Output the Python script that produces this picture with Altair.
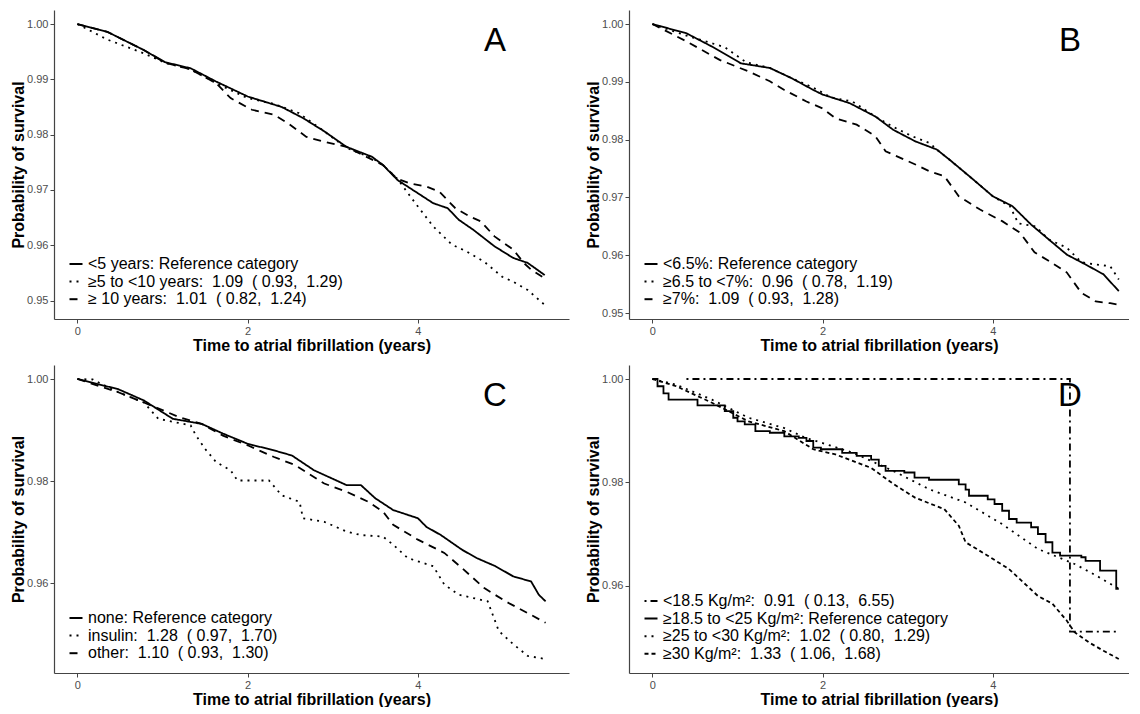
import altair as alt
import pandas as pd

# ---------------- data ----------------
# Panel A: diabetes duration
A_lab = ["<5 years: Reference category",
         "≥5 to <10 years:  1.09  ( 0.93,  1.29)",
         "≥ 10 years:  1.01  ( 0.82,  1.24)"]
A1_t = [0, 0.35, 0.78, 1.03, 1.33, 1.63, 2.0, 2.4, 2.65, 2.9, 3.16, 3.46, 3.59, 3.76, 4.0, 4.18, 4.35, 4.48, 4.65, 4.9, 5.12, 5.29, 5.49]
A1_s = [1.0, 0.9986, 0.9953, 0.9931, 0.992, 0.9896, 0.9869, 0.985, 0.983, 0.9806, 0.9778, 0.976, 0.9745, 0.9718, 0.9694, 0.9676, 0.9667, 0.9646, 0.9628, 0.9598, 0.9577, 0.9568, 0.9546]
A2_t = [0, 0.35, 0.78, 1.03, 1.33, 1.63, 2.0, 2.3, 2.6, 2.9, 3.16, 3.46, 3.59, 3.76, 3.97, 4.18, 4.4, 4.57, 4.78, 4.99, 5.12, 5.29, 5.49]
A2_s = [1.0, 0.9972, 0.9947, 0.993, 0.9918, 0.9893, 0.9866, 0.9856, 0.9839, 0.9806, 0.9776, 0.9758, 0.9745, 0.972, 0.9676, 0.9634, 0.9601, 0.9589, 0.957, 0.9543, 0.9534, 0.9519, 0.9492]
A3_t = [0, 0.35, 0.78, 1.03, 1.33, 1.63, 1.8, 2.05, 2.31, 2.48, 2.69, 2.9, 3.16, 3.59, 3.76, 3.9, 4.1, 4.25, 4.44, 4.61, 4.74, 4.9, 5.12, 5.25, 5.33, 5.49]
A3_s = [1.0, 0.9986, 0.9953, 0.993, 0.9918, 0.9893, 0.9866, 0.9845, 0.9836, 0.982, 0.9796, 0.9787, 0.9778, 0.9745, 0.972, 0.9712, 0.9706, 0.9697, 0.9667, 0.9652, 0.9643, 0.9616, 0.9592, 0.9567, 0.9556, 0.954]

# Panel B: HbA1c
B_lab = ["<6.5%: Reference category",
         "≥6.5 to <7%:  0.96  ( 0.78,  1.19)",
         "≥7%:  1.09  ( 0.93,  1.28)"]
B1_t = [0, 0.4, 0.7, 1.04, 1.38, 1.64, 1.89, 2.0, 2.32, 2.62, 2.83, 3.09, 3.34, 3.51, 3.77, 4.0, 4.23, 4.45, 4.66, 4.87, 5.09, 5.3, 5.48]
B1_s = [1.0, 0.9984, 0.9961, 0.9932, 0.9924, 0.9906, 0.9886, 0.9878, 0.9863, 0.984, 0.9817, 0.9797, 0.9783, 0.9763, 0.9731, 0.9702, 0.9685, 0.9653, 0.9627, 0.9601, 0.9584, 0.9567, 0.9538]
B2_t = [0, 0.4, 0.85, 1.1, 1.38, 1.64, 1.89, 2.1, 2.35, 2.62, 2.83, 3.05, 3.26, 3.34, 3.51, 3.77, 4.0, 4.2, 4.3, 4.5, 4.66, 4.87, 5.04, 5.2, 5.38, 5.48]
B2_s = [1.0, 0.998, 0.996, 0.9934, 0.9924, 0.9906, 0.989, 0.9873, 0.9866, 0.984, 0.9822, 0.9806, 0.9794, 0.9783, 0.9763, 0.9731, 0.9702, 0.9685, 0.9655, 0.965, 0.9627, 0.9613, 0.9588, 0.9584, 0.9581, 0.9558]
B3_t = [0, 0.4, 0.79, 1.13, 1.38, 1.55, 1.81, 2.0, 2.15, 2.4, 2.62, 2.74, 3.09, 3.26, 3.43, 3.6, 3.85, 4.11, 4.32, 4.49, 4.66, 4.87, 5.04, 5.21, 5.38, 5.48]
B3_s = [1.0, 0.997, 0.9938, 0.9918, 0.9901, 0.9886, 0.9866, 0.9854, 0.9837, 0.9826, 0.9806, 0.978, 0.9757, 0.9745, 0.9737, 0.9702, 0.9679, 0.9659, 0.9639, 0.9605, 0.959, 0.957, 0.9535, 0.952, 0.9517, 0.9514]

# Panel C: diabetes treatment
C_lab = ["none: Reference category",
         "insulin:  1.28  ( 0.97,  1.70)",
         "other:  1.10  ( 0.93,  1.30)"]
C1_t = [0, 0.48, 0.78, 1.12, 1.46, 1.71, 2.0, 2.31, 2.52, 2.78, 2.99, 3.16, 3.33, 3.5, 3.71, 4.0, 4.1, 4.27, 4.52, 4.69, 4.91, 5.12, 5.33, 5.42, 5.5]
C1_s = [1.0, 0.998, 0.9958, 0.9922, 0.9912, 0.9893, 0.9873, 0.986, 0.985, 0.9821, 0.9805, 0.9792, 0.9792, 0.9766, 0.9743, 0.9727, 0.971, 0.9694, 0.9665, 0.9649, 0.9633, 0.9613, 0.9603, 0.9577, 0.9564]
C2_t = [0, 0.18, 0.48, 0.78, 0.95, 1.33, 1.39, 1.5, 1.63, 1.8, 1.88, 2.25, 2.4, 2.61, 2.65, 2.9, 3.16, 3.33, 3.59, 3.71, 3.88, 4.18, 4.31, 4.48, 4.82, 4.95, 5.12, 5.29, 5.5]
C2_s = [1.0, 0.9999, 0.9974, 0.9954, 0.9922, 0.9909, 0.989, 0.9863, 0.9837, 0.9821, 0.9801, 0.9801, 0.9772, 0.9759, 0.9727, 0.972, 0.9701, 0.9694, 0.9691, 0.9675, 0.9649, 0.9633, 0.9597, 0.9577, 0.9564, 0.9506, 0.948, 0.9457, 0.9451]
C3_t = [0, 0.48, 0.78, 1.2, 1.46, 1.71, 2.0, 2.31, 2.56, 2.9, 3.16, 3.42, 3.59, 3.71, 4.0, 4.31, 4.52, 4.78, 5.03, 5.29, 5.5]
C3_s = [1.0, 0.9974, 0.9954, 0.9925, 0.9912, 0.9889, 0.987, 0.9847, 0.9831, 0.9795, 0.9779, 0.9759, 0.974, 0.9714, 0.9685, 0.9659, 0.9629, 0.959, 0.9564, 0.9541, 0.9522]

# Panel D: BMI
D_lab = ["<18.5 Kg/m²:  0.91  ( 0.13,  6.55)",
         "≥18.5 to <25 Kg/m²: Reference category",
         "≥25 to <30 Kg/m²:  1.02  ( 0.80,  1.29)",
         "≥30 Kg/m²:  1.33  ( 1.06,  1.68)"]
D1_t = [0.4, 4.906, 5.48]
D1_s = [1.0, 0.9511, 0.9511]
D2_t = [0, 0.06, 0.13, 0.19, 0.53, 0.85, 0.95, 1.0, 1.085, 1.21, 1.38, 1.55, 1.72, 1.81, 1.89, 1.98, 2.23, 2.40, 2.57, 2.66, 2.74, 2.96, 3.08, 3.25, 3.60, 3.68, 3.72, 3.94, 4.02, 4.11, 4.19, 4.28, 4.45, 4.53, 4.62, 4.70, 4.79, 5.04, 5.09, 5.26, 5.45, 5.48]
D2_s = [1.0, 0.9986, 0.9972, 0.996, 0.9949, 0.9938, 0.9925, 0.9918, 0.9912, 0.9899, 0.9896, 0.9889, 0.9886, 0.988, 0.9867, 0.9864, 0.9857, 0.9851, 0.9844, 0.9832, 0.9822, 0.9819, 0.9809, 0.9805, 0.9796, 0.9786, 0.9774, 0.9767, 0.9758, 0.9745, 0.9729, 0.9722, 0.9713, 0.97, 0.9684, 0.9664, 0.9658, 0.9655, 0.9648, 0.9629, 0.9594, 0.9594]
D3_t = [0, 0.28, 0.7, 1.13, 1.55, 1.8, 1.98, 2.36, 2.83, 3.26, 3.68, 4.11, 4.53, 4.96, 5.21, 5.48]
D3_s = [1.0, 0.9989, 0.996, 0.9925, 0.9905, 0.9886, 0.9877, 0.9857, 0.9822, 0.9786, 0.9761, 0.9719, 0.9671, 0.9642, 0.962, 0.9594]
D4_t = [0, 0.28, 0.7, 1.13, 1.55, 1.89, 2.15, 2.57, 2.83, 3.09, 3.43, 3.6, 3.68, 3.94, 4.19, 4.36, 4.53, 4.7, 4.87, 4.96, 5.13, 5.3, 5.48]
D4_s = [1.0, 0.9986, 0.9954, 0.9918, 0.9899, 0.9864, 0.9854, 0.9828, 0.9797, 0.977, 0.9748, 0.9716, 0.9684, 0.9658, 0.9632, 0.9606, 0.958, 0.9565, 0.9532, 0.951, 0.949, 0.9474, 0.9458]

A_yticks = [0.95, 0.96, 0.97, 0.98, 0.99, 1.00]
B_yticks = [0.95, 0.96, 0.97, 0.98, 0.99, 1.00]
C_yticks = [0.96, 0.98, 1.00]
D_yticks = [0.96, 0.98, 1.00]
x_ticks = [0, 2, 4]

# ---------------- styles ----------------
SOLID = [1, 0]
DOTTED = [2, 5]
DASHED = [8, 6]
DOTDASH = [2, 4, 7, 4]
DASH2 = [4, 3]
FONT = "Liberation Sans"


def nb(s):
    return s.replace("( ", "(\u00a0").replace("  ", "\u00a0 ")


def panel(series, letter, yticks, width, height, xmax):
    labels = [nb(s[0]) for s in series]
    dashes = [s[1] for s in series]
    ymin = min(min(s[3]) for s in series)
    rng = 1.0 - ymin
    ydom = [ymin - 0.05 * rng, 1.0 + 0.05 * rng]
    layers = []
    for lab, dash, t, s, interp in series:
        df = pd.DataFrame({"t": t, "S": s, "series": nb(lab)})
        layers.append(
            alt.Chart(df).mark_line(interpolate=interp, color="black", strokeWidth=1.8).encode(
                x=alt.X("t:Q", scale=alt.Scale(domain=[-0.275, xmax], nice=False, zero=False),
                        axis=alt.Axis(values=x_ticks, format="d", titlePadding=1,
                                      title="Time to atrial fibrillation (years)")),
                y=alt.Y("S:Q", scale=alt.Scale(domain=ydom, nice=False, zero=False),
                        axis=alt.Axis(values=yticks, format=".2f", title="Probability of survival",
                                      titlePadding=0)),
                strokeDash=alt.StrokeDash(
                    "series:N",
                    scale=alt.Scale(domain=labels, range=dashes),
                    legend=alt.Legend(title=None, orient="bottom-left", offset=11,
                                      labelFont=FONT, labelFontSize=16, labelColor="black",
                                      labelLimit=600, labelOffset=4, rowPadding=1.6,
                                      symbolType="stroke", symbolSize=169, symbolStrokeWidth=2,
                                      symbolStrokeColor="black", symbolOffset=3, padding=0),
                ),
                order=alt.Order("t:Q"),
            )
        )
    txt = alt.Chart(pd.DataFrame({"letter": [letter]})).mark_text(
        font=FONT, fontSize=33, color="black", align="center", baseline="middle"
    ).encode(x=alt.value(441), y=alt.value(31), text="letter:N")
    layers.append(txt)
    return alt.layer(*layers).properties(width=width, height=height)


pA = panel([(A_lab[0], SOLID, A1_t, A1_s, "linear"),
            (A_lab[1], DOTTED, A2_t, A2_s, "linear"),
            (A_lab[2], DASHED, A3_t, A3_s, "linear")], "A", A_yticks, 515, 309, 5.775)
pB = panel([(B_lab[0], SOLID, B1_t, B1_s, "linear"),
            (B_lab[1], DOTTED, B2_t, B2_s, "linear"),
            (B_lab[2], DASHED, B3_t, B3_s, "linear")], "B", B_yticks, 500, 309, 5.6)
pC = panel([(C_lab[0], SOLID, C1_t, C1_s, "linear"),
            (C_lab[1], DOTTED, C2_t, C2_s, "linear"),
            (C_lab[2], DASHED, C3_t, C3_s, "linear")], "C", C_yticks, 515, 308, 5.775)
pD = panel([(D_lab[0], DOTDASH, D1_t, D1_s, "step-after"),
            (D_lab[1], SOLID, D2_t, D2_s, "step-after"),
            (D_lab[2], DOTTED, D3_t, D3_s, "linear"),
            (D_lab[3], DASH2, D4_t, D4_s, "linear")], "D", D_yticks, 500, 308, 5.6)

row1 = alt.hconcat(pA, pB, spacing=16).resolve_scale(x="independent", y="independent", strokeDash="independent").resolve_legend(strokeDash="independent")
row2 = alt.hconcat(pC, pD, spacing=16).resolve_scale(x="independent", y="independent", strokeDash="independent").resolve_legend(strokeDash="independent")

chart = alt.vconcat(row1, row2, spacing=12).resolve_scale(
    x="independent", y="independent", strokeDash="independent"
).resolve_legend(strokeDash="independent").properties(
    padding={"left": 2, "top": 2, "right": 0, "bottom": 0},
    background="white",
).configure_view(stroke=None).configure_axis(
    grid=False,
    domainColor="#444444", domainWidth=1.2,
    tickColor="#444444", tickSize=4, tickWidth=1,
    labelFont=FONT, labelFontSize=11, labelColor="#4d4d4d", labelPadding=2,
    titleFont=FONT, titleFontSize=16, titleFontWeight="bold", titleColor="black",
    titlePadding=3,
)

chart.save("out.html", embed_options={"renderer": "svg", "actions": False})
